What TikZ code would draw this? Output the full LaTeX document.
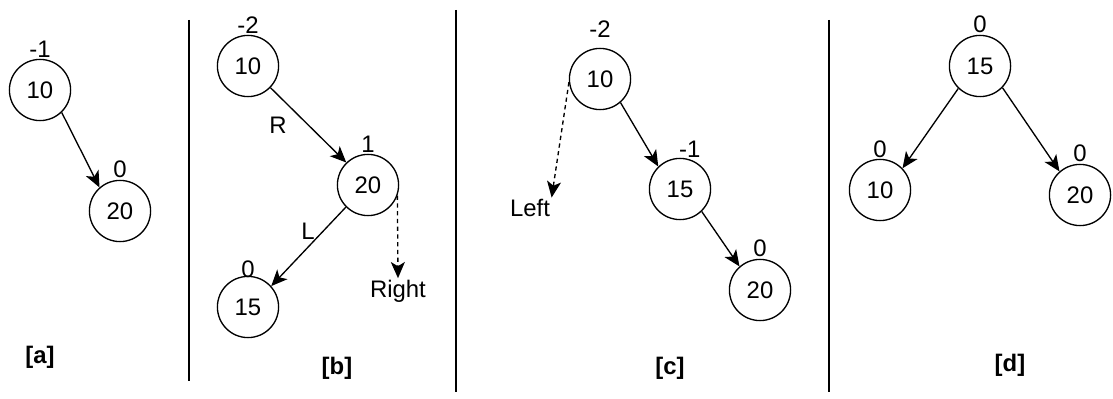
\documentclass[tikz,border=0pt]{standalone}
\usepackage{fontspec}
\setmainfont{Liberation Sans}
\usetikzlibrary{arrows.meta}

\tikzset{
  avl/.style={circle, draw, line width=0.95pt, minimum size=43.5pt, inner sep=0pt,
    font=\fontsize{17}{20}\selectfont, label distance=1.5pt},
  bal/.style={font=\fontsize{17}{20}\selectfont, inner sep=1pt},
  link/.style={line width=0.95pt, -{Stealth[length=11.5pt,width=10pt,inset=3pt]}},
  probe/.style={link, dash pattern=on 3pt off 2.5pt},
  sep/.style={line width=1pt},
  tag/.style={font=\fontsize{17}{20}\selectfont\bfseries, inner sep=1pt}
}

\begin{document}
\begin{tikzpicture}[x=0.025cm, y=-0.025cm]
    \useasboundingbox (0,0) rectangle (1113,399);
    % [a] 插入 20
    \node[avl, label={[bal]above:-1}] (a10) at (40,90) {10};
    \node[avl, label={[bal]above:0}] (a20) at (120,211) {20};
    \draw[link] (a10.-46) -- (a20.131);
    \node[tag] (ta) at (40,357) {[a]};
    \draw[sep] (189,20) -- (189,381);
    % [b] 插入 15，RL 失衡
    \node[avl, label={[bal]above:-2}] (b10) at (248,66) {10};
    \node[avl, label={[bal]above:1}] (b20) at (368,185) {20};
    \node[avl, label={[bal, label distance=-2.5pt]above:0}] (b15) at (248,307) {15};
    \draw[link] (b10.-44) -- node[bal, left=14pt] (br) {R} (b20.134);
    \draw[link] (b20.225) -- node[bal, pos=0.3, left=4.8pt] (bl) {L} (b15.42);
    \node[bal] (bright) at (398,291) {Right};
    \draw[probe] (b20.-20) -- (bright.north);
    \node[tag] (tb) at (337,368) {[b]};
    \draw[sep] (456,10) -- (456,392);
    % [c] 右旋之后
    \node[avl, label={[bal, label distance=6pt]above:-2}] (c10) at (600,79) {10};
    \node[avl, label={[bal, label distance=-1pt, xshift=7pt]above:-1}] (c15) at (680,189) {15};
    \node[avl, label={[bal]above:0}] (c20) at (760,290) {20};
    \draw[link] (c10.-49) -- (c15.134);
    \draw[link] (c15.-46) -- (c20.131);
    \node[bal] (cleft) at (530,208) {Left};
    \draw[probe] (c10.186) -- (cleft.north east);
    \node[tag] (tc) at (670,368) {[c]};
    \draw[sep] (829,20) -- (829,392);
    % [d] 左旋之后，平衡
    \node[avl, label={[bal]above:0}] (d15) at (980,66) {15};
    \node[avl, label={[bal, label distance=-0.5pt]above:0}] (d10) at (880,190) {10};
    \node[avl, label={[bal]above:0}] (d20) at (1080,195) {20};
    \draw[link] (d15.226) -- (d10.44);
    \draw[link] (d15.-44) -- (d20.131);
    \node[tag] (td) at (1010,365) {[d]};
\end{tikzpicture}
\end{document}
